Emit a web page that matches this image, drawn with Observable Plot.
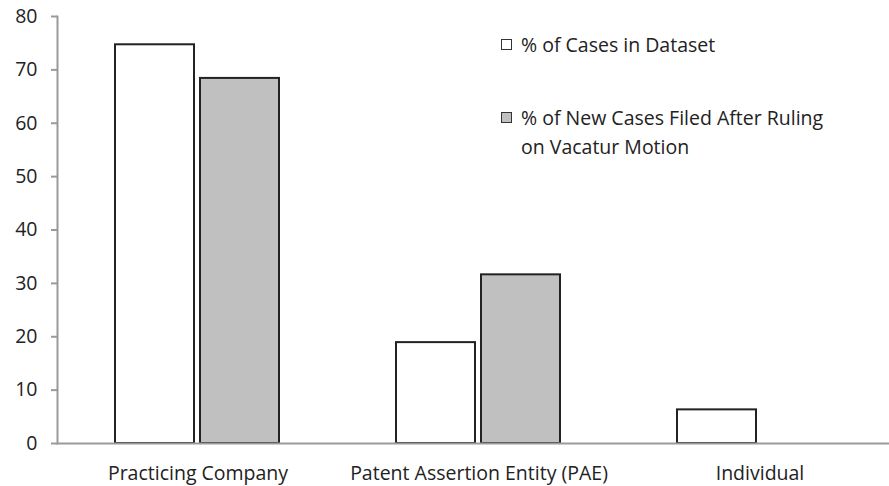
<!DOCTYPE html>
<html>
<head>
<meta charset="utf-8">
<script src="https://cdn.jsdelivr.net/npm/d3@7"></script>
<script src="https://cdn.jsdelivr.net/npm/@observablehq/plot@0.6"></script>
<style>
  html, body { margin: 0; padding: 0; background: #fff; }
  #wrap { position: relative; width: 889px; height: 486px; font-family: "Open Sans", sans-serif; color: #222; }
  #legend { position: absolute; left: 501px; top: 30px; font-size: 19.5px; line-height: 29px; }
  .item { display: flex; align-items: flex-start; }
  .sw { width: 9px; height: 9px; border: 1.5px solid #333; margin-top: 9px; margin-right: 9px; flex: none; }
</style>
</head>
<body>
<div id="wrap"></div>
<script>
const categories = ["Practicing Company", "Patent Assertion Entity (PAE)", "Individual"];
const series = ["% of Cases in Dataset", "% of New Cases Filed After Ruling on Vacatur Motion"];
const datasetPct = [74.7, 18.9, 6.3];
const newCasesPct = [68.4, 31.6, 0];
const yTicks = [0, 10, 20, 30, 40, 50, 60, 70, 80];
const seriesFill = ["#ffffff", "#c0c0c0"];

const data = [];
categories.forEach((c, i) => {
  data.push({category: c, series: series[0], value: datasetPct[i]});
  data.push({category: c, series: series[1], value: newCasesPct[i]});
});

const chart = Plot.plot({
  width: 889,
  height: 486,
  marginLeft: 56,
  marginRight: -11,
  marginTop: 16,
  marginBottom: 43,
  style: {fontFamily: "Open Sans, sans-serif", color: "#222", background: "#fff"},
  fx: {domain: categories, padding: 0, label: null},
  x: {domain: series, paddingInner: 0.07, paddingOuter: 0.672, axis: null},
  y: {domain: [0, 80], label: null},
  color: {domain: series, range: seriesFill},
  marks: [
    Plot.barY(data.filter(d => d.value > 0), {fx: "category", x: "series", y: "value", fill: "series", stroke: "#222", strokeWidth: 2}),
    Plot.ruleY([0], {stroke: "#9a9a9a", strokeWidth: 2}),
    Plot.frame({anchor: "left", facetAnchor: "left", stroke: "#9a9a9a", strokeWidth: 2}),
    Plot.axisY({ticks: yTicks, tickSize: 6, tickPadding: 14, stroke: "#9a9a9a", strokeWidth: 2, fontSize: 19.5, fill: "#222", label: null}),
    Plot.axisFx({anchor: "bottom", tickSize: 0, tickPadding: 23, fontSize: 19.5, fill: "#222", label: null})
  ]
});

const wrap = document.getElementById("wrap");
wrap.appendChild(chart);

const legend = document.createElement("div");
legend.id = "legend";
const labels = ["% of Cases in Dataset", "% of New Cases Filed After Ruling<br>on Vacatur Motion"];
labels.forEach((t, i) => {
  const it = document.createElement("div");
  it.className = "item";
  if (i === 1) it.style.marginTop = "44px";
  const sw = document.createElement("span");
  sw.className = "sw";
  sw.style.background = seriesFill[i];
  const tx = document.createElement("span");
  tx.innerHTML = t;
  it.appendChild(sw);
  it.appendChild(tx);
  legend.appendChild(it);
});
wrap.appendChild(legend);
</script>
</body>
</html>
